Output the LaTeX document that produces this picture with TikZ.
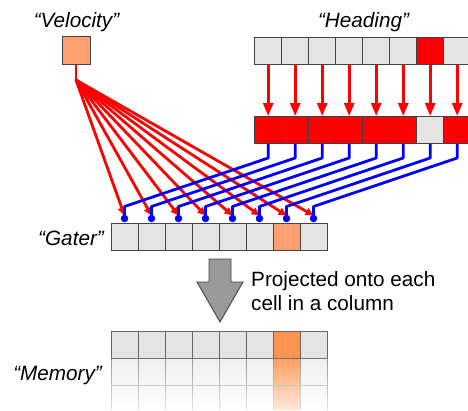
\documentclass[tikz,border=0pt]{standalone}
\usepackage{fontspec}
\setmainfont{Liberation Sans}
\usetikzlibrary{calc,arrows.meta}
\definecolor{cellgray}{HTML}{E4E4E4}
\definecolor{orng}{HTML}{FFA070}
\definecolor{memorng}{HTML}{FF9450}
\definecolor{edge}{HTML}{444444}
\tikzset{
  cell/.style={draw=edge, line width=1pt, minimum size=27pt, inner sep=0pt, fill=cellgray},
  redcell/.style={cell, fill=red, draw=black!75},
  lbl/.style={font=\fontsize{20.7}{24}\selectfont\itshape, inner sep=0pt},
  txt/.style={font=\fontsize{20.7}{24}\selectfont, inner sep=0pt, align=left},
  redline/.style={draw=red, line width=2.8pt},
  blueline/.style={draw=blue, line width=2.8pt},
  redarrow/.style={redline, -{Triangle[length=8pt,width=7.5pt]}},
  headarrow/.style={redline, -{Triangle[length=13pt,width=10pt]}},
  dot/.style={circle, fill=blue, inner sep=0pt, minimum size=7.5pt},
}
\begin{document}
\begin{tikzpicture}[x=1pt,y=-1pt]
\useasboundingbox (0,0) rectangle (468,410);
% labels
\node[lbl, anchor=base] (lv) at (76.5,27) {“Velocity”};
\node[lbl, anchor=base] (lh) at (363.5,27) {“Heading”};
\node[lbl, anchor=base east] (lg) at (104,245) {“Gater”};
\node[lbl, anchor=base east] (lm) at (102,380) {“Memory”};
% velocity
\node[cell, fill=orng, minimum size=28pt] (v) at (76,50.5) {};
% heading rows
\foreach \i in {1,...,8}{
  \pgfmathsetmacro{\xx}{268.2+27*(\i-1)}
  \ifnum\i=7
    \node[redcell] (h\i) at (\xx,50.5) {};
    \node[cell] (k\i) at (\xx,130) {};
  \else
    \node[cell] (h\i) at (\xx,50.5) {};
    \node[redcell] (k\i) at (\xx,130) {};
  \fi
  \draw[headarrow] (h\i.south) -- (k\i.north);
}
% gater row
\foreach \i in {1,...,8}{
  \pgfmathsetmacro{\xx}{124.5+27*(\i-1)}
  \ifnum\i=7
    \node[cell, fill=orng] (r\i) at (\xx,237) {};
  \else
    \node[cell] (r\i) at (\xx,237) {};
  \fi
}
% red fan from velocity
\coordinate (vf) at ($(v.south)+(0,15)$);
\draw[redline] (v.south) -- (vf);
\foreach \i in {1,...,8}{
  \draw[redarrow] (vf) -- ($(r\i.north)+(0,-7.5)$);
}
% blue lines from heading to gater
\foreach \i in {1,...,8}{
  \draw[blueline, line join=round] (k\i.south) -- ++(0,14) -- ($(r\i.north)+(0,-16.5)$) -- ($(r\i.north)+(0,-4.5)$);
  \node[dot] (d\i) at ($(r\i.north)+(0,-4.5)$) {};
}
% big arrow
\draw[edge, fill=black!40, line width=0.9pt]
  (209,259) -- (231,259) -- (231,282) -- (243,282) -- (220,322) -- (197,282) -- (209,282) -- cycle;
\node[txt, anchor=base west] (pt) at (251,286) {Projected onto each};
\node[txt, anchor=base west] (pt2) at (251,310) {cell in a column};
% memory grid: first row
\fill[cellgray] (111,331) rectangle (273,358);
\fill[memorng] (273,331) rectangle (300,358);
\fill[cellgray] (300,331) rectangle (327,358);
% fading lower rows, drawn as thin strips
\foreach \s in {0,...,25}{
  \pgfmathsetmacro{\gg}{6-0.22*\s}
  \pgfmathsetmacro{\oo}{90-2.7*\s}
  \fill[black!\gg] (111,358+2*\s) rectangle (327,360.3+2*\s);
  \fill[memorng!\oo!white] (273,358+2*\s) rectangle (300,360.3+2*\s);
}
\foreach \j in {0,...,8}{
  \draw[black!60, line width=0.9pt] (111+27*\j,331) -- (111+27*\j,358);
  \foreach \s in {0,...,12}{
    \pgfmathsetmacro{\gv}{40-2.3*\s}
    \draw[black!\gv, line width=0.9pt] (111+27*\j,358+4*\s) -- (111+27*\j,362+4*\s);
  }
}
\draw[black!60, line width=0.9pt] (111,331) -- (327,331);
\draw[black!55, line width=0.9pt] (111,358) -- (327,358);
\draw[black!22, line width=0.9pt] (111,385) -- (327,385);
\end{tikzpicture}
\end{document}
